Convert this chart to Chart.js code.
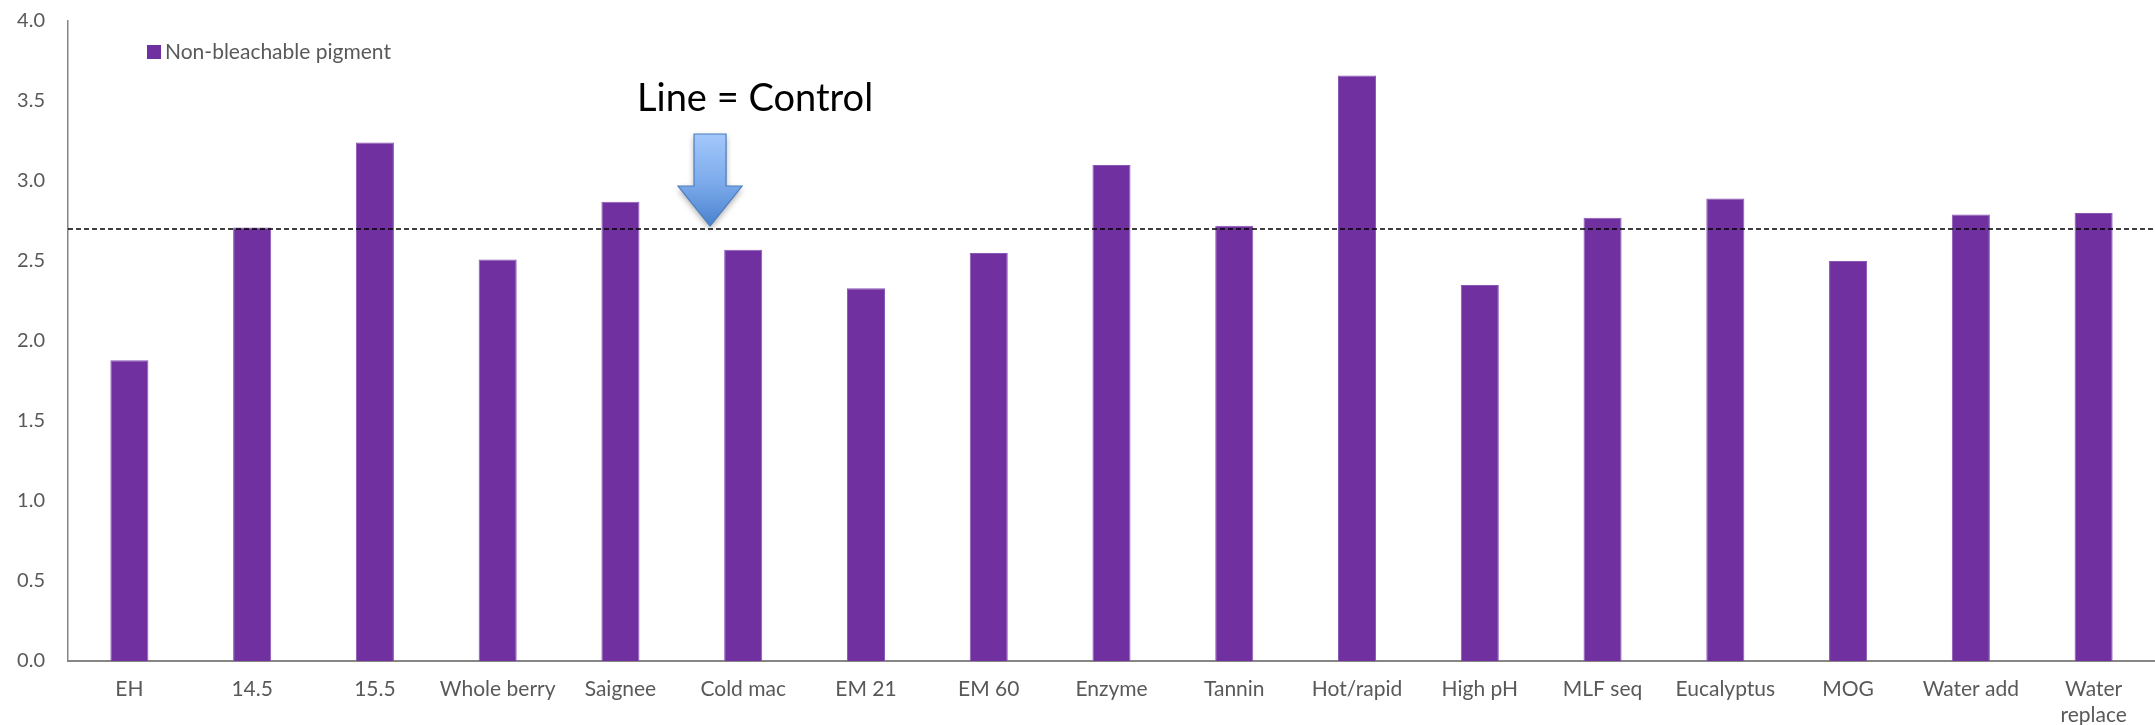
<!DOCTYPE html>
<html>
<head>
<meta charset="utf-8">
<script src="https://cdn.jsdelivr.net/npm/chart.js@4/dist/chart.umd.min.js"></script>
<style>
html,body{margin:0;padding:0;background:#fff;}
#wrap{width:2155px;height:725px;position:relative;}
</style>
</head>
<body>
<div id="wrap"><canvas id="c" width="2155" height="725"></canvas></div>
<script>
const categories = ['EH','14.5','15.5','Whole berry','Saignee','Cold mac','EM 21','EM 60','Enzyme','Tannin','Hot/rapid','High pH','MLF seq','Eucalyptus','MOG','Water add',['Water','replace']];
const pigmentValues = [1.88,2.71,3.24,2.51,2.87,2.57,2.33,2.55,3.10,2.72,3.66,2.35,2.77,2.89,2.50,2.79,2.80];
const controlValue = 2.70;
const seriesName = 'Non-bleachable pigment';
const annotationText = 'Line = Control';
const yTicks = [0,0.5,1,1.5,2,2.5,3,3.5,4];

const FONT = 'Lato, "Open Sans", sans-serif';

const overlay = {
  id: 'overlay',
  afterDatasetsDraw(chart) {
    const ctx = chart.ctx;
    const x = chart.scales.x, y = chart.scales.y;
    const area = chart.chartArea;
    // control line
    const cy = y.getPixelForValue(controlValue);
    ctx.save();
    ctx.strokeStyle = '#000';
    ctx.lineWidth = 1.5;
    ctx.setLineDash([5, 3]);
    ctx.beginPath();
    ctx.moveTo(area.left, cy);
    ctx.lineTo(area.right, cy);
    ctx.stroke();
    ctx.restore();

    // arrow pointing to control line
    const spacing = x.getPixelForValue(1) - x.getPixelForValue(0);
    const tipX = x.getPixelForValue(5) - 0.27 * spacing;
    const tipY = cy - 3;
    const headH = 40, headW = 32, shaftW = 16, shaftH = 52;
    const topY = tipY - headH - shaftH;
    ctx.save();
    ctx.shadowColor = 'rgba(0,0,0,0.35)';
    ctx.shadowBlur = 6;
    ctx.shadowOffsetY = 3;
    const g = ctx.createLinearGradient(0, topY, 0, tipY);
    g.addColorStop(0, '#a3c8fb');
    g.addColorStop(0.55, '#7aa9ea');
    g.addColorStop(1, '#4a82cf');
    ctx.fillStyle = g;
    ctx.beginPath();
    ctx.moveTo(tipX - shaftW, topY);
    ctx.lineTo(tipX + shaftW, topY);
    ctx.lineTo(tipX + shaftW, tipY - headH);
    ctx.lineTo(tipX + headW, tipY - headH);
    ctx.lineTo(tipX, tipY);
    ctx.lineTo(tipX - headW, tipY - headH);
    ctx.lineTo(tipX - shaftW, tipY - headH);
    ctx.closePath();
    ctx.fill();
    ctx.shadowColor = 'transparent';
    ctx.strokeStyle = '#4a7ebb';
    ctx.lineWidth = 1.2;
    ctx.stroke();
    ctx.restore();

    // annotation text
    ctx.save();
    ctx.fillStyle = '#000';
    ctx.font = '38px ' + FONT;
    ctx.textAlign = 'center';
    ctx.textBaseline = 'middle';
    ctx.fillText(annotationText, tipX + 45, 99);
    ctx.restore();

    // legend
    ctx.save();
    const lx = area.left + 79, ly = 52;
    ctx.fillStyle = chart.data.datasets[0].backgroundColor;
    ctx.fillRect(lx, ly - 7, 14, 14);
    ctx.fillStyle = '#595959';
    ctx.font = '21px ' + FONT;
    ctx.textAlign = 'left';
    ctx.textBaseline = 'middle';
    ctx.fillText(chart.data.datasets[0].label, lx + 18, ly);
    ctx.restore();
  }
};

new Chart(document.getElementById('c'), {
  type: 'bar',
  data: {
    labels: categories,
    datasets: [{
      label: seriesName,
      data: pigmentValues,
      backgroundColor: '#7030A0',
      borderColor: '#8a55b5',
      borderWidth: {left:1,right:1,top:1,bottom:0},
      barPercentage: 0.31,
      categoryPercentage: 1.0
    }]
  },
  options: {
    responsive: false,
    animation: false,
    devicePixelRatio: 1,
    layout: { padding: { top: 21, right: 0, left: 0, bottom: 0 } },
    plugins: { legend: { display: false }, tooltip: { enabled: false } },
    scales: {
      x: {
        grid: { display: false, drawTicks: false },
        border: { color: '#868686', width: 2 },
        ticks: { color: '#595959', font: { family: FONT, size: 21, lineHeight: 1.25 }, maxRotation: 0, autoSkip: false, padding: 15 },
        afterFit(s) { s.height = 64; s.paddingLeft = 0; s.paddingRight = 0; }
      },
      y: {
        min: 0, max: 4,
        grid: { display: false, drawTicks: false },
        border: { color: '#868686', width: 1.5 },
        afterBuildTicks(s) { s.ticks = yTicks.map(v => ({ value: v })); },
        ticks: { color: '#595959', font: { family: FONT, size: 20 }, padding: 23, callback: v => Number(v).toFixed(1) },
        afterFit(s) { s.width = 68; s.paddingTop = 0; s.paddingBottom = 0; }
      }
    }
  },
  plugins: [overlay]
});
</script>
</body>
</html>
